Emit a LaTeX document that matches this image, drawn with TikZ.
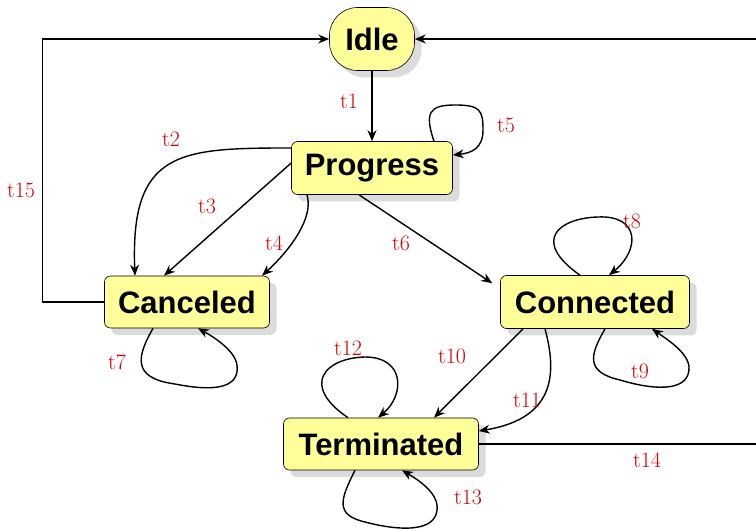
\documentclass[tikz,border=0pt]{standalone}
\usepackage{fontspec}
\newfontfamily\statefont{Liberation Sans}
\usepackage{tikz}
\usetikzlibrary{arrows.meta,shadows}
\definecolor{stateyellow}{RGB}{255,255,153}
\definecolor{tred}{RGB}{210,0,0}

\begin{document}
\begin{tikzpicture}[x=1pt, y=-1pt, >={Stealth[length=11pt,width=9pt]},
  state/.style={draw, fill=stateyellow, rounded corners=6pt, line width=0.6pt, inner sep=0pt,
    font=\statefont\bfseries\fontsize{31}{36}\selectfont,
    drop shadow={shadow xshift=7pt, shadow yshift=-7pt, fill=black!14, opacity=1}},
  trans/.style={->, line width=1.4pt},
  lbl/.style={text=tred, inner sep=0pt, font=\fontsize{22}{26}\selectfont}]

  \useasboundingbox (0,0) rectangle (756,529);

  \node[state, rounded corners=28pt, minimum width=85pt, minimum height=63pt] (idle) at (372,39) {Idle};
  \node[state, minimum width=161pt, minimum height=53pt] (prog) at (372,168) {Progress};
  \node[state, minimum width=165pt, minimum height=52pt] (can) at (187,302) {Canceled};
  \node[state, minimum width=189pt, minimum height=53pt] (con) at (595,302) {Connected};
  \node[state, minimum width=195pt, minimum height=52pt] (term) at (381,444) {Terminated};

  \draw[trans] (idle) -- (prog); %% t1
  \draw[trans] ([yshift=20pt]prog.west) .. controls (180,148) and (130,150) .. ([xshift=-52pt]can.north); %% t2
  \draw[trans] ([yshift=5pt]prog.west) -- ([xshift=-23pt]can.north); %% t3
  \draw[trans] ([xshift=-65pt]prog.south) .. controls (314,218) and (290,250) .. ([xshift=75pt]can.north); %% t4
  \draw[trans] ([xshift=62pt]prog.north) .. controls (424,112) and (430,105) .. (455,105)
    .. controls (480,105) and (483,110) .. (483,130) .. controls (483,148) and (472,153) .. ([yshift=13pt]prog.east); %% t5
  \draw[trans] ([xshift=-13pt]prog.south) -- ([shift={(-8pt,-8pt)}]con.north west); %% t6

  \draw[trans] ([xshift=-34pt]can.south) .. controls (138,355) and (130,378) .. (175,384)
    .. controls (215,392) and (240,388) .. (237,365) .. controls (235,350) and (212,336) .. ([xshift=11pt]can.south); %% t7
  \draw[trans] ([xshift=-15pt]con.north) .. controls (530,240) and (560,218) .. (598,217)
    .. controls (640,215) and (640,250) .. ([xshift=14pt]con.north); %% t8
  \draw[trans] ([xshift=10pt]con.south) .. controls (590,355) and (585,372) .. (620,380)
    .. controls (660,392) and (690,390) .. (689,367) .. controls (688,352) and (665,338) .. ([xshift=57pt]con.south); %% t9
  \draw[trans] ([xshift=-72pt]con.south) -- ([xshift=53pt]term.north); %% t10
  \draw[trans] ([xshift=-50pt]con.south) .. controls (556,370) and (558,418) .. ([yshift=13pt]term.east); %% t11

  \draw[trans] ([xshift=-33pt]term.north) .. controls (300,385) and (325,358) .. (365,357)
    .. controls (405,357) and (405,395) .. ([xshift=-3pt]term.north); %% t12
  \draw[trans] ([xshift=-26pt]term.south) .. controls (340,500) and (335,515) .. (365,522)
    .. controls (395,530) and (440,535) .. (437,505) .. controls (435,490) and (415,478) .. ([xshift=21pt]term.south); %% t13
  \draw[trans] (term.east) -- (780,444) |- (idle.east); %% t14
  \draw[trans] (can.west) -- +(-62pt,0) |- (idle.west); %% t15

  \node[lbl] (l1) at (349,101) {t1};
  \node[lbl] (l2) at (171,139) {t2};
  \node[lbl] (l3) at (207,206) {t3};
  \node[lbl] (l4) at (274,243) {t4};
  \node[lbl] (l5) at (506,125) {t5};
  \node[lbl] (l6) at (401,243) {t6};
  \node[lbl] (l7) at (117,362) {t7};
  \node[lbl] (l8) at (632,221) {t8};
  \node[lbl] (l9) at (640,371) {t9};
  \node[lbl] (l10) at (452,356) {t10};
  \node[lbl] (l11) at (527,400) {t11};
  \node[lbl] (l12) at (348,348) {t12};
  \node[lbl] (l13) at (468,497) {t13};
  \node[lbl] (l14) at (647,460) {t14};
  \node[lbl] (l15) at (21,190) {t15};

\end{tikzpicture}
\end{document}
